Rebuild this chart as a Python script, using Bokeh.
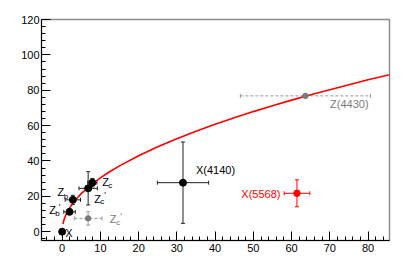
import math
from bokeh.plotting import figure
from bokeh.models import ColumnDataSource, Whisker, TeeHead, Label, Range1d, SingleIntervalTicker
from bokeh.core.properties import value
from bokeh.embed import file_html
from bokeh.resources import INLINE

FONT = "Liberation Sans"

# ---- data ----
# solid black states
blk_delta = [0.0, 1.93, 2.8, 6.8, 7.9, 31.6]
blk_gamma = [0.0, 11.2, 18.0, 24.5, 27.7, 27.7]
blk_dx = [0.0, 1.5, 2.0, 2.4, 1.2, 6.7]
blk_dy = [0.0, 1.4, 2.6, 9.4, 2.4, 23.0]

# grey (dashed) states
gry_delta = [6.8, 63.6]
gry_gamma = [7.5, 76.8]
gry_dx = [3.6, 17.0]
gry_dy = [3.8, 0.0]

# red state X(5568)
red_delta = [61.4]
red_gamma = [21.7]
red_dx = [3.35]
red_dy = [7.6]

# fitted curve Gamma(delta)
curve_delta = [0.2, 0.5, 1, 1.5, 2, 3, 4, 5, 6, 8, 10, 12, 15, 20, 25, 30, 35, 40,
               45, 50, 55, 60, 65, 70, 75, 80, 85.6]
curve_gamma = [4.3, 6.8, 9.6, 11.8, 13.6, 16.6, 19.2, 21.5, 23.5, 27.2, 30.4, 33.3,
               37.2, 42.9, 48.0, 52.6, 56.8, 60.7, 64.4, 67.9, 71.2, 74.4, 77.4,
               80.3, 83.1, 85.9, 88.8]

# labels: main text, subscript, prime, anchored to points
blk_main = ["X", "Z", "Z", "Z", "Z", "X(4140)"]
blk_main_dx = [3, -20.4, -15.3, 6, 10, 13]
blk_main_dy = [1, -1.7, -7.7, 10.4, -1, -12.7]
blk_sub = ["", "b", "b", "c", "c", ""]
blk_sub_dx = [0, -14.4, -9, 12, 16, 0]
blk_sub_dy = [0, 1.3, -3.4, 13.4, 2.6, 0]
blk_prime = ["", "'", "", "'", "", ""]
blk_prime_dx = [0, -10.9, 0, 16, 0, 0]
blk_prime_dy = [0, -4.7, 0, 6.7, 0, 0]

gry_main = ["Z", "Z(4430)"]
gry_main_dx = [21.7, 24.7]
gry_main_dy = [1, 8.3]
gry_sub = ["c", ""]
gry_sub_dx = [28, 0]
gry_sub_dy = [3.7, 0]
gry_prime = ["'", ""]
gry_prime_dx = [32.4, 0]
gry_prime_dy = [-2.6, 0]

red_label = ["X(5568)"]

x_ticks_step = 10
y_ticks_step = 20

BLACK = "#000000"
GREY = "#7a7a7a"
RED = "#ff0000"

p = figure(width=405, height=276, output_backend="svg", toolbar_location=None,
           x_range=Range1d(-5.4, 85.6), y_range=Range1d(-5, 120),
           min_border_left=41, min_border_right=16, min_border_top=19, min_border_bottom=36)
p.grid.visible = False
p.background_fill_color = "white"
p.border_fill_color = "white"
p.outline_line_color = "#8c8c8c"
p.outline_line_width = 1.5

for ax, step in ((p.xaxis[0], x_ticks_step), (p.yaxis[0], y_ticks_step)):
    ax.ticker = SingleIntervalTicker(interval=step, num_minor_ticks=5)
    ax.axis_line_color = BLACK
    ax.axis_line_width = 1
    ax.major_tick_in = 9
    ax.major_tick_out = 0
    ax.minor_tick_in = 4
    ax.minor_tick_out = 0
    ax.major_tick_line_color = BLACK
    ax.minor_tick_line_color = BLACK
    ax.major_label_text_font = FONT
    ax.major_label_text_font_size = "11px"
    ax.major_label_text_color = BLACK
p.yaxis[0].major_label_standoff = 2
p.xaxis[0].major_label_standoff = 3

# curve
p.line(curve_delta, curve_gamma, line_color=RED, line_width=1.6)

def errbars(xs, ys, dxs, dys, color, dash, head):
    src = ColumnDataSource(dict(x=xs, y=ys,
                                xl=[a - b for a, b in zip(xs, dxs)], xu=[a + b for a, b in zip(xs, dxs)],
                                yl=[a - b for a, b in zip(ys, dys)], yu=[a + b for a, b in zip(ys, dys)]))
    for dim, base, lo, up in (("width", "y", "xl", "xu"), ("height", "x", "yl", "yu")):
        w = Whisker(source=src, base=base, lower=lo, upper=up, dimension=dim,
                    line_color=color, line_width=1, line_dash=dash,
                    lower_head=TeeHead(size=head, line_color=color, line_width=1),
                    upper_head=TeeHead(size=head, line_color=color, line_width=1))
        p.add_layout(w)

errbars(blk_delta[1:], blk_gamma[1:], blk_dx[1:], blk_dy[1:], "#222222", "solid", 4)
errbars(gry_delta, gry_gamma, gry_dx, gry_dy, "#999999", "3 2", 4)
errbars(red_delta, red_gamma, red_dx, red_dy, RED, "solid", 4)

p.scatter(blk_delta, blk_gamma, size=7, color=BLACK)
p.scatter(gry_delta, gry_gamma, size=5.5, color=GREY)
p.scatter(red_delta, red_gamma, size=6.5, color=RED)

def texts(xs, ys, txt, dx, dy, color, size, align="left"):
    p.text(x=xs, y=ys, text=txt, x_offset=dx, y_offset=dy, text_color=color,
           text_font=value(FONT), text_font_size=size, text_align=align,
           text_baseline="middle")

texts(blk_delta, blk_gamma, blk_main, blk_main_dx, blk_main_dy, BLACK, "11px")
texts(blk_delta, blk_gamma, blk_sub, blk_sub_dx, blk_sub_dy, BLACK, "8px")
texts(blk_delta, blk_gamma, blk_prime, blk_prime_dx, blk_prime_dy, BLACK, "9px")
texts(gry_delta, gry_gamma, gry_main, gry_main_dx, gry_main_dy, GREY, "11px")
texts(gry_delta, gry_gamma, gry_sub, gry_sub_dx, gry_sub_dy, GREY, "8px")
texts(gry_delta, gry_gamma, gry_prime, gry_prime_dx, gry_prime_dy, GREY, "9px")
texts(red_delta, red_gamma, red_label, [-16.5], [0.7], RED, "11px", align="right")

# axis titles
p.add_layout(Label(x=40.0, y=-20.1, text="δ (MeV)", text_font=FONT, text_font_size="12.5px",
                   text_align="center", text_baseline="middle", text_color=BLACK))
p.add_layout(Label(x=-13.1, y=61.7, text="Γ (MeV)", text_font=FONT, text_font_size="12.5px",
                   text_align="center", text_baseline="middle", angle=math.pi / 2,
                   text_color=BLACK))

open("out.html", "w").write(file_html(p, INLINE))
